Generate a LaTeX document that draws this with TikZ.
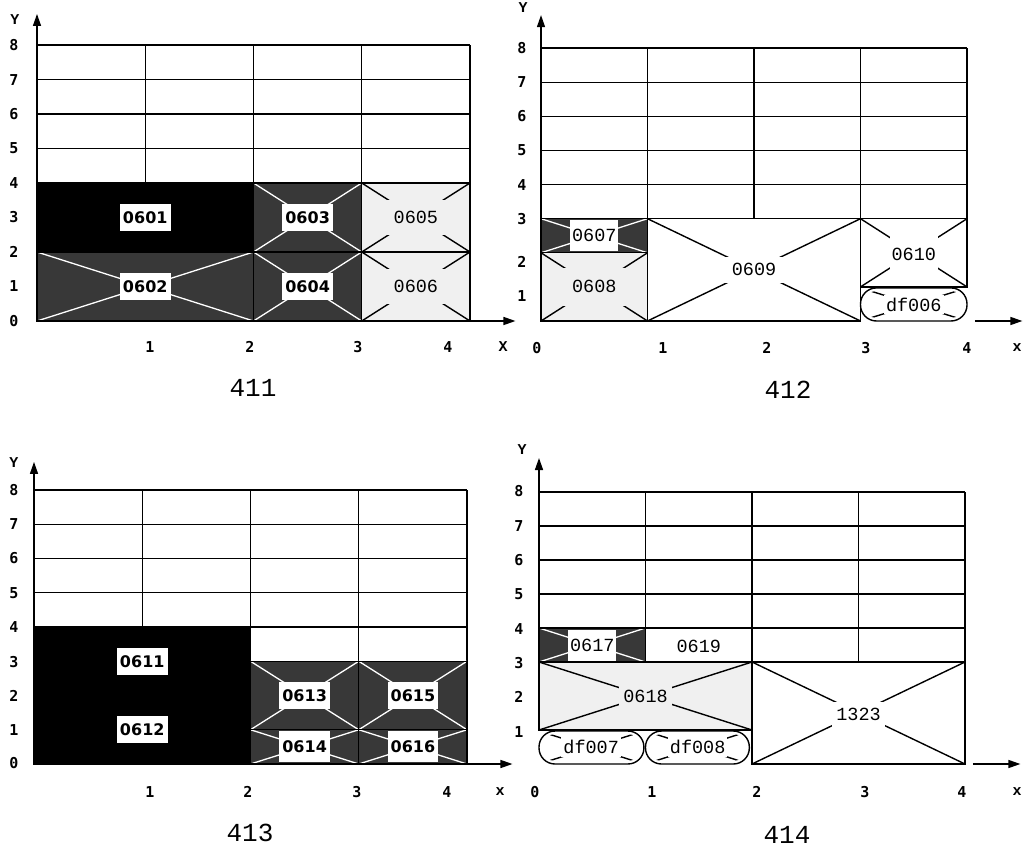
\documentclass[tikz,border=0pt]{standalone}
\usepackage{fontspec}
\usetikzlibrary{arrows.meta}
\newfontfamily\labfont{DejaVu Sans}
\newfontfamily\cour{Liberation Mono}
\newfontfamily\axfont{DejaVu Sans Mono}
\newcommand\xrect[6]{%
  \fill[#1] (#2,#3) rectangle (#4,#5);
  \draw[#6] (#2,#3) -- (#4,#5) (#2,#5) -- (#4,#3);
  \draw[ln] (#2,#3) rectangle (#4,#5);}
\newcommand\pillbox[4]{%
  \fill[white, rounded corners=16pt] (#1,#2) rectangle (#3,#4);
  \begin{scope}
    \clip[rounded corners=12pt] ([shift={(4pt,3pt)}]#1,#2) rectangle ([shift={(-4pt,-3pt)}]#3,#4);
    \draw[bx] (#1,#2) -- (#3,#4) (#1,#4) -- (#3,#2);
  \end{scope}
  \draw[ln, rounded corners=16pt] (#1,#2) rectangle (#3,#4);}
\begin{document}
\begin{tikzpicture}[x=1pt,y=-1pt,
  ln/.style={line width=1.4pt},
  axisln/.style={line width=1.4pt,-{Triangle[length=12pt,width=8pt]}},
  dark/.style={fill=black!78},
  light/.style={fill=black!6},
  wx/.style={draw=white,line width=1.3pt},
  bx/.style={draw=black,line width=1.4pt},
  dlab/.style={fill=white,inner xsep=3pt,inner ysep=7.5pt,font=\labfont\bfseries\fontsize{16}{16}\selectfont},
  llab/.style={inner xsep=10pt,inner ysep=9pt,font=\cour\fontsize{18.5}{18.5}\selectfont},
  ax/.style={font=\axfont\bfseries\fontsize{15}{15}\selectfont,inner sep=0pt},
  axl/.style={font=\cour\bfseries\fontsize{15}{15}\selectfont,inner sep=0pt},
  capt/.style={font=\cour\fontsize{26}{26}\selectfont,inner sep=0pt}]
\useasboundingbox (0,0) rectangle (1036,850);
\fill[white] (0,0) rectangle (1036,850);

% ---------------- panel 411 ----------------
\begin{scope}[shift={(37,321)},x=108.25pt,y=34.5pt]
  \foreach \y in {4,...,8} \draw[ln] (0,\y) -- (4,\y);
  \foreach \x in {0,...,4} \draw[ln] (\x,4) -- (\x,8);
  \fill[black] (0,2) rectangle (2,4); \draw[ln] (0,2) rectangle (2,4);
  \xrect{dark}{0}{0}{2}{2}{wx}
  \xrect{dark}{2}{2}{3}{4}{wx}
  \xrect{dark}{2}{0}{3}{2}{wx}
  \xrect{light}{3}{2}{4}{4}{bx}
  \xrect{light}{3}{0}{4}{2}{bx}
  \node[dlab] (n0601) at (1,3) {0601};
  \node[dlab] (n0602) at (1,1) {0602};
  \node[dlab] (n0603) at (2.5,3) {0603};
  \node[dlab] (n0604) at (2.5,1) {0604};
  \node[llab,fill=black!6,inner xsep=11pt,inner ysep=11pt] (n0605) at (3.5,3) {0605};
  \node[llab,fill=black!6,inner xsep=11pt,inner ysep=11pt] (n0606) at (3.5,1) {0606};
  \coordinate (o1) at (0,0);
  \coordinate (ya1) at (0,8.9);
  \coordinate (xa1) at (4.42,0);
  \draw[axisln] (o1) -- (ya1);
  \draw[axisln] (o1) -- (xa1);
\end{scope}

% ---------------- panel 412 ----------------
\begin{scope}[shift={(541,321)},x=106.5pt,y=34.1pt]
  \foreach \y in {3,...,8} \draw[ln] (0,\y) -- (4,\y);
  \foreach \x in {0,...,4} \draw[ln] (\x,3) -- (\x,8);
  \xrect{dark}{0}{2}{1}{3}{wx}
  \xrect{light}{0}{0}{1}{2}{bx}
  \xrect{white}{1}{0}{3}{3}{bx}
  \xrect{white}{3}{1}{4}{3}{bx}
  \pillbox{3}{0}{4}{0.97}
  \node[llab,fill=white,inner xsep=2pt,inner ysep=0pt,minimum height=31pt] (n0607) at (0.5,2.5) {0607};
  \node[llab,fill=black!6,inner xsep=10pt,inner ysep=13pt] (n0608) at (0.5,1) {0608};
  \node[llab,fill=white,inner xsep=12pt,inner ysep=7pt] (n0609) at (2,1.5) {0609};
  \node[llab,fill=white,inner xsep=2pt,inner ysep=12pt] (n0610) at (3.5,1.95) {0610};
  \node[llab,fill=white,inner xsep=2pt,inner ysep=3pt] (ndf006) at (3.5,0.48) {df006};
  \coordinate (o2) at (0,0);
  \coordinate (ya2) at (0,8.97);
  \coordinate (xs2) at (4.075,0);
  \coordinate (xa2) at (4.52,0);
  \draw[axisln] (o2) -- (ya2);
  \draw[axisln] (xs2) -- (xa2);
\end{scope}

% ---------------- panel 413 ----------------
\begin{scope}[shift={(34,764)},x=108.25pt,y=34.25pt]
  \foreach \y in {4,...,8} \draw[ln] (0,\y) -- (4,\y);
  \draw[ln] (2,3) -- (4,3);
  \foreach \x in {0,...,4} \draw[ln] (\x,4) -- (\x,8);
  \foreach \x in {2,3,4} \draw[ln] (\x,3) -- (\x,4);
  \fill[black] (0,0) rectangle (2,4); \draw[ln] (0,0) rectangle (2,4);
  \xrect{dark}{2}{1}{3}{3}{wx}
  \xrect{dark}{3}{1}{4}{3}{wx}
  \xrect{dark}{2}{0}{3}{1}{wx}
  \xrect{dark}{3}{0}{4}{1}{wx}
  \node[dlab] (n0611) at (1,3) {0611};
  \node[dlab] (n0612) at (1,1) {0612};
  \node[dlab] (n0613) at (2.5,2) {0613};
  \node[dlab] (n0615) at (3.5,2) {0615};
  \node[dlab,inner ysep=0pt,minimum height=31pt] (n0614) at (2.5,0.5) {0614};
  \node[dlab,inner ysep=0pt,minimum height=31pt] (n0616) at (3.5,0.5) {0616};
  \coordinate (o3) at (0,0);
  \coordinate (ya3) at (0,8.82);
  \coordinate (xa3) at (4.42,0);
  \draw[axisln] (o3) -- (ya3);
  \draw[axisln] (o3) -- (xa3);
\end{scope}

% ---------------- panel 414 ----------------
\begin{scope}[shift={(539,764)},x=106.5pt,y=34pt]
  \foreach \y in {4,...,8} \draw[ln] (0,\y) -- (4,\y);
  \draw[ln] (1,3) -- (4,3);
  \foreach \x in {0,...,4} \draw[ln] (\x,4) -- (\x,8);
  \foreach \x in {1,...,4} \draw[ln] (\x,3) -- (\x,4);
  \xrect{dark}{0}{3}{1}{4}{wx}
  \xrect{light}{0}{1}{2}{3}{bx}
  \xrect{white}{2}{0}{4}{3}{bx}
  \pillbox{0}{0}{0.985}{0.97}
  \pillbox{1.0}{0}{1.975}{0.97}
  \node[llab,fill=white,inner xsep=2pt,inner ysep=0pt,minimum height=31pt] (n0617) at (0.5,3.5) {0617};
  \node[llab,inner sep=2pt] (n0619) at (1.5,3.47) {0619};
  \node[llab,fill=black!6,inner xsep=4pt,inner ysep=4pt] (n0618) at (1,2) {0618};
  \node[llab,fill=white,inner xsep=4.5pt,inner ysep=6.5pt] (n1323) at (3,1.45) {1323};
  \node[llab,fill=white,inner xsep=2pt,inner ysep=3pt] (ndf007) at (0.49,0.5) {df007};
  \node[llab,fill=white,inner xsep=2pt,inner ysep=3pt] (ndf008) at (1.49,0.5) {df008};
  \coordinate (o4) at (0,1);
  \coordinate (ya4) at (0,9.0);
  \coordinate (xs4) at (4.075,0);
  \coordinate (xa4) at (4.52,0);
  \draw[axisln] (o4) -- (ya4);
  \draw[axisln] (xs4) -- (xa4);
\end{scope}

% ---------------- axis labels ----------------
% 411
\node[axl] (yl1) at (15,20) {Y};
\foreach \v/\yy in {8/45,7/80,6/114,5/148,4/183,3/217,2/252,1/286,0/321}
  \node[ax] (a1y\v) at (14,\yy) {\v};
\foreach \v/\xx in {1/150,2/250,3/358,4/448}
  \node[ax] (a1x\v) at (\xx,347) {\v};
\node[axl] (xl1) at (503,347) {X};
\node[capt] (c411) at (253,388) {411};
% 412
\node[axl] (yl2) at (523,8) {Y};
\foreach \v/\yy in {8/48,7/82,6/116,5/150,4/185,3/219,2/262,1/296}
  \node[ax] (a2y\v) at (522,\yy) {\v};
\foreach \v/\xx in {0/537,1/663,2/767,3/866,4/967}
  \node[ax] (a2x\v) at (\xx,348) {\v};
\node[axl] (xl2) at (1017,348) {x};
\node[capt] (c412) at (788,390) {412};
% 413
\node[axl] (yl3) at (14,463) {Y};
\foreach \v/\yy in {8/490,7/524,6/558,5/593,4/627,3/662,2/696,1/730,0/763}
  \node[ax] (a3y\v) at (14,\yy) {\v};
\foreach \v/\xx in {1/150,2/248,3/357,4/447}
  \node[ax] (a3x\v) at (\xx,792) {\v};
\node[axl] (xl3) at (500,792) {x};
\node[capt] (c413) at (250,833) {413};
% 414
\node[axl] (yl4) at (522,450) {Y};
\foreach \v/\yy in {8/491,7/526,6/560,5/594,4/629,3/663,2/697,1/732}
  \node[ax] (a4y\v) at (519,\yy) {\v};
\foreach \v/\xx in {0/535,1/652,2/757,3/865,4/962}
  \node[ax] (a4x\v) at (\xx,792) {\v};
\node[axl] (xl4) at (1017,792) {x};
\node[capt] (c414) at (787,835) {414};
\end{tikzpicture}
\end{document}
